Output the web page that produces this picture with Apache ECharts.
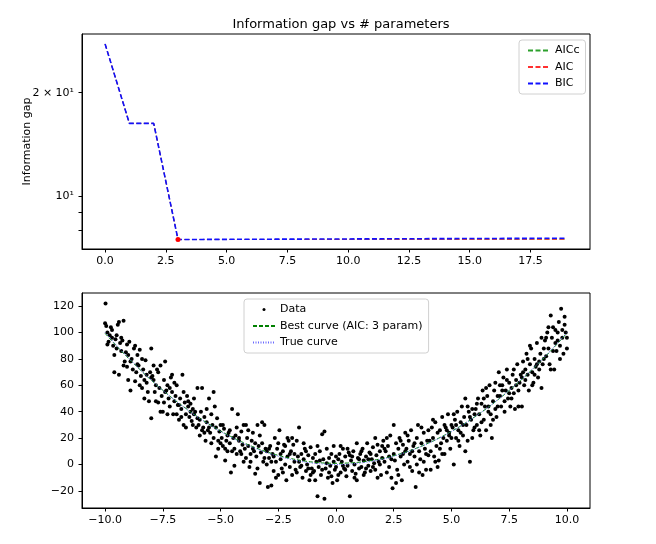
<!DOCTYPE html>
<html>
<head>
<meta charset="utf-8">
<script src="https://cdn.jsdelivr.net/npm/echarts@6.0.0/dist/echarts.min.js"></script>
<style>
  html, body { margin: 0; padding: 0; background: #fff; }
  #chart { width: 656px; height: 544px; }
</style>
</head>
<body>
<div id="chart"></div>
<script>
// top panel: information gap per number of parameters
const paramCounts = [0, 1, 2, 3, 4, 5, 6, 7, 8, 9, 10, 11, 12, 13, 14, 15, 16, 17, 18, 19];
const aiccValues = [27.7, 16.3, 16.3, 7.51, 7.51, 7.51, 7.512, 7.513, 7.514, 7.515, 7.516, 7.517, 7.518, 7.519, 7.52, 7.521, 7.522, 7.523, 7.524, 7.525];
const aicValues = [27.7, 16.3, 16.3, 7.51, 7.51, 7.51, 7.512, 7.513, 7.514, 7.515, 7.516, 7.517, 7.518, 7.519, 7.52, 7.521, 7.522, 7.523, 7.524, 7.525];
const bicValues = [27.7, 16.3, 16.3, 7.51, 7.515, 7.52, 7.524, 7.528, 7.532, 7.536, 7.54, 7.544, 7.548, 7.552, 7.556, 7.56, 7.564, 7.568, 7.572, 7.576];
const bestK = 3;
const topXTicks = [0, 2.5, 5, 7.5, 10, 12.5, 15, 17.5];
const topYTicks = [8, 9, 10, 20];
const topYLabels = [10, 20];

// bottom panel: data and curves
const curveX = [-10, -9.5, -9, -8.5, -8, -7.5, -7, -6.5, -6, -5.5, -5, -4.5, -4, -3.5, -3, -2.5, -2, -1.5, -1, -0.5, 0,
  0.5, 1, 1.5, 2, 2.5, 3, 3.5, 4, 4.5, 5, 5.5, 6, 6.5, 7, 7.5, 8, 8.5, 9, 9.5, 10];
const trueY = [100, 90.25, 81, 72.25, 64, 56.25, 49, 42.25, 36, 30.25, 25, 20.25, 16, 12.25, 9, 6.25, 4, 2.25, 1, 0.25, 0,
  0.25, 1, 2.25, 4, 6.25, 9, 12.25, 16, 20.25, 25, 30.25, 36, 42.25, 49, 56.25, 64, 72.25, 81, 90.25, 100];
const bestY = [99.4, 89.8, 80.7, 72.1, 63.9, 56.3, 49.1, 42.5, 36.3, 30.6, 25.4, 20.7, 16.5, 12.8, 9.6, 6.9, 4.7, 3.0, 1.8, 1.1, 0.9,
  1.1, 1.7, 2.9, 4.5, 6.7, 9.3, 12.5, 16.2, 20.4, 25.1, 30.3, 36.0, 42.2, 48.9, 56.1, 63.8, 72.0, 80.7, 89.9, 99.6];
const bottomXTicks = [-10, -7.5, -5, -2.5, 0, 2.5, 5, 7.5, 10];
const bottomYTicks = [-20, 0, 20, 40, 60, 80, 100, 120];

const dataPoints = [
  [-10,107],[-9.95,105],[-9.9,100],[-9.85,93],[-9.8,98],[-9.75,104],[-9.7,102],[-9.65,90],[-9.6,83],[-9.55,95],
  [-9.5,88],[-9.45,106],[-9.4,108],[-9.35,92],[-9.3,86],[-9.25,94],[-9.2,109],[-9.15,78],[-9.1,85],[-9.05,91],
  [-9.0,83],[-9.98,122],[-9.6,70],[-9.4,68],[-9.2,75],[-9.05,74],[-9.5,98],[-9.3,96],[-9.7,96],[-9.9,91],
  [-8.95,93],[-8.9,78],[-8.85,80],[-8.8,72],[-8.75,88],[-8.7,63],[-8.65,70],[-8.6,83],[-8.55,75],[-8.5,87],
  [-8.45,67],[-8.4,58],[-8.35,72],[-8.3,64],[-8.25,79],[-8.2,68],[-8.15,55],[-8.1,48],[-8.05,70],[-8.0,88],
  [-8.9,56],[-8.7,90],[-8.6,76],[-8.4,80],[-8.2,62],[-8.0,35],[-8.0,66],[-8.3,50],[-8.5,60],[-9.0,64],
  [-7.95,67],[-7.9,64],[-7.85,55],[-7.8,60],[-7.75,72],[-7.7,47],[-7.65,58],[-7.6,75],[-7.55,52],[-7.5,40],
  [-7.45,64],[-7.4,78],[-7.35,56],[-7.3,60],[-7.25,50],[-7.2,44],[-7.15,66],[-7.1,55],[-7.05,38],[-7.0,62],
  [-7.6,40],[-7.3,38],[-7.8,48],[-7.7,70],[-7.2,58],[-7.0,48],[-7.9,75],[-7.45,47],[-7.1,68],[-7.4,55],
  [-6.95,52],[-6.9,38],[-6.85,45],[-6.8,34],[-6.75,50],[-6.7,42],[-6.65,68],[-6.6,30],[-6.55,47],[-6.5,38],
  [-6.45,52],[-6.4,44],[-6.35,36],[-6.3,46],[-6.25,33],[-6.2,42],[-6.15,50],[-6.1,40],[-6.05,28],[-6.0,35],
  [-6.9,60],[-6.7,36],[-6.5,28],[-6.3,40],[-6.15,38],[-6.8,45],[-6.6,55],[-6.4,48],[-6.2,30],[-6.0,58],
  [-5.95,30],[-5.9,22],[-5.85,40],[-5.8,58],[-5.75,28],[-5.7,36],[-5.65,18],[-5.6,32],[-5.55,26],[-5.5,50],
  [-5.45,24],[-5.4,38],[-5.35,30],[-5.3,20],[-5.25,44],[-5.2,28],[-5.15,35],[-5.1,12],[-5.05,25],[-5.0,30],
  [-5.9,34],[-5.6,42],[-5.4,16],[-5.3,55],[-5.2,6],[-5.5,28],[-5.7,24],[-5.1,18],[-5.8,26],[-5.0,16],
  [-4.95,20],[-4.9,14],[-4.85,27],[-4.8,3],[-4.75,18],[-4.7,10],[-4.65,24],[-4.6,16],[-4.55,-6],[-4.5,42],
  [-4.45,20],[-4.4,12],[-4.35,22],[-4.3,8],[-4.25,38],[-4.2,18],[-4.15,10],[-4.1,25],[-4.05,15],[-4.0,2],
  [-4.9,30],[-4.7,22],[-4.5,10],[-4.3,28],[-4.1,8],[-4.6,26],[-4.4,-1],[-4.0,30],[-4.8,12],[-4.2,20],
  [-3.95,12],[-3.9,5],[-3.85,20],[-3.8,14],[-3.75,-2],[-3.7,8],[-3.65,18],[-3.6,24],[-3.55,10],[-3.5,-7],
  [-3.45,6],[-3.4,30],[-3.35,14],[-3.3,-14],[-3.25,9],[-3.2,16],[-3.15,2],[-3.1,30],[-3.05,12],[-3.0,0],
  [-3.9,30],[-3.7,2],[-3.5,16],[-3.3,22],[-3.1,5],[-3.6,12],[-3.4,-3],[-3.2,32],[-3.8,26],[-3.0,10],
  [-2.95,-17],[-2.9,5],[-2.85,14],[-2.8,-16],[-2.75,8],[-2.7,-5],[-2.65,20],[-2.6,2],[-2.55,12],[-2.5,-8],
  [-2.45,26],[-2.4,4],[-2.35,-3],[-2.3,10],[-2.25,15],[-2.2,0],[-2.15,-12],[-2.1,6],[-2.05,18],[-2.0,-2],
  [-2.9,12],[-2.7,6],[-2.5,16],[-2.3,-6],[-2.1,20],[-2.6,-10],[-2.4,8],[-2.2,14],[-2.8,2],[-2.0,8],
  [-1.95,10],[-1.9,-8],[-1.85,15],[-1.8,2],[-1.75,-4],[-1.7,18],[-1.65,6],[-1.6,28],[-1.55,-2],[-1.5,8],
  [-1.45,-10],[-1.4,4],[-1.35,12],[-1.3,-5],[-1.25,0],[-1.2,7],[-1.15,-12],[-1.1,13],[-1.05,-3],[-1.0,5],
  [-1.9,20],[-1.7,-6],[-1.5,-1],[-1.3,10],[-1.1,-8],[-1.6,2],[-1.4,16],[-1.2,-3],[-1.8,8],[-1.0,-6],
  [-0.95,-5],[-0.9,8],[-0.85,2],[-0.8,-24],[-0.75,-2],[-0.7,10],[-0.65,-8],[-0.6,23],[-0.55,4],[-0.5,-26],
  [-0.45,-3],[-0.4,12],[-0.35,-10],[-0.3,5],[-0.25,-1],[-0.2,8],[-0.15,-14],[-0.1,2],[-0.05,-4],[0.0,6],
  [-0.9,-12],[-0.7,3],[-0.5,25],[-0.3,-6],[-0.1,14],[-0.6,-4],[-0.4,1],[-0.2,-9],[-0.8,14],[0.0,-2],
  [0.05,-12],[0.1,4],[0.15,8],[0.2,-6],[0.25,2],[0.3,12],[0.35,-3],[0.4,6],[0.45,-9],[0.5,-1],
  [0.55,9],[0.6,-24],[0.65,3],[0.7,-5],[0.75,10],[0.8,0],[0.85,-7],[0.9,16],[0.95,5],[1.0,-3],
  [0.1,-8],[0.3,-1],[0.5,12],[0.7,6],[0.9,-12],[0.2,14],[0.4,-4],[0.6,7],[0.8,-10],[1.0,4],
  [1.05,8],[1.1,-2],[1.15,12],[1.2,3],[1.25,-6],[1.3,6],[1.35,16],[1.4,-1],[1.45,9],[1.5,-5],
  [1.55,4],[1.6,13],[1.65,1],[1.7,-4],[1.75,7],[1.8,15],[1.85,2],[1.9,10],[1.95,-8],[2.0,5],
  [1.1,10],[1.3,-3],[1.5,8],[1.7,20],[1.9,0],[1.2,-8],[1.4,4],[1.6,-2],[1.8,-10],[2.0,14],
  [2.05,18],[2.1,2],[2.15,10],[2.2,-6],[2.25,14],[2.3,6],[2.35,22],[2.4,-10],[2.45,-18],[2.5,8],
  [2.55,3],[2.6,16],[2.65,-4],[2.7,12],[2.75,20],[2.8,6],[2.85,-12],[2.9,15],[2.95,0],[3.0,24],
  [2.1,12],[2.3,-2],[2.5,30],[2.7,-8],[2.9,8],[2.2,20],[2.4,4],[2.6,-14],[2.8,18],[3.0,10],
  [3.05,12],[3.1,2],[3.15,18],[3.2,8],[3.25,26],[3.3,-5],[3.35,14],[3.4,6],[3.45,-17],[3.5,20],
  [3.55,30],[3.6,10],[3.65,4],[3.7,16],[3.75,-8],[3.8,24],[3.85,12],[3.9,-4],[3.95,18],[4.0,7],
  [3.1,22],[3.3,10],[3.5,0],[3.7,28],[3.9,8],[3.2,-2],[3.4,16],[3.6,-6],[3.8,2],[4.0,26],
  [4.05,18],[4.1,10],[4.15,28],[4.2,20],[4.25,6],[4.3,32],[4.35,14],[4.4,24],[4.45,3],[4.5,26],
  [4.55,16],[4.6,36],[4.65,20],[4.7,8],[4.75,28],[4.8,18],[4.85,38],[4.9,24],[4.95,12],[5.0,30],
  [4.1,-4],[4.3,2],[4.5,12],[4.7,30],[4.9,22],[4.2,34],[4.4,-2],[4.6,8],[4.8,26],[5.0,20],
  [5.05,28],[5.1,0],[5.15,34],[5.2,20],[5.25,40],[5.3,26],[5.35,14],[5.4,32],[5.45,44],[5.5,22],
  [5.55,36],[5.6,50],[5.65,30],[5.7,18],[5.75,40],[5.8,2],[5.85,34],[5.9,42],[5.95,26],[6.0,38],
  [5.1,38],[5.3,18],[5.5,30],[5.7,44],[5.9,20],[5.2,30],[5.4,24],[5.6,10],[5.8,36],[6.0,28],
  [6.05,42],[6.1,30],[6.15,50],[6.2,38],[6.25,22],[6.3,46],[6.35,56],[6.4,34],[6.45,44],[6.5,26],
  [6.55,52],[6.6,40],[6.65,60],[6.7,38],[6.75,20],[6.8,48],[6.85,56],[6.9,42],[6.95,36],[7.0,52],
  [6.1,46],[6.3,32],[6.5,58],[6.7,30],[6.9,62],[6.2,26],[6.4,50],[6.6,44],[6.8,34],[7.0,44],
  [7.05,70],[7.1,52],[7.15,44],[7.2,60],[7.25,66],[7.3,40],[7.35,56],[7.4,72],[7.45,50],[7.5,62],
  [7.55,44],[7.6,58],[7.65,68],[7.7,54],[7.75,42],[7.8,64],[7.85,76],[7.9,56],[7.95,62],[8.05,44],
  [7.1,60],[7.3,48],[7.5,54],[7.7,72],[7.9,44],[7.2,56],[7.4,64],[7.6,50],[7.8,60],[8.0,68],
  [8.05,66],[8.1,78],[8.15,60],[8.2,72],[8.25,84],[8.3,68],[8.35,56],[8.4,76],[8.45,88],[8.5,70],
  [8.55,62],[8.6,80],[8.65,74],[8.7,92],[8.75,66],[8.8,78],[8.85,84],[8.9,58],[8.95,76],[9.0,88],
  [8.1,70],[8.3,80],[8.5,60],[8.7,76],[8.9,96],[8.2,64],[8.4,90],[8.6,68],[8.8,72],[9.0,80],
  [9.05,94],[9.1,82],[9.15,100],[9.2,88],[9.25,76],[9.3,113],[9.35,96],[9.4,104],[9.45,72],[9.5,92],
  [9.55,86],[9.6,100],[9.65,108],[9.7,90],[9.75,118],[9.8,96],[9.85,84],[9.9,106],[9.95,100],[10.0,96],
  [9.1,96],[9.3,72],[9.5,102],[9.7,80],[9.9,112],[9.2,104],[9.4,86],[9.6,94],[9.8,102],[10.0,88]
];

const FONT = 'DejaVu Sans';
const minus = s => String(s).replace('-', '\u2212');

const pairs = (xs, ys) => xs.map((x, i) => [x, ys[i]]);

function axisBase(gridIndex) {
  return {
    gridIndex: gridIndex,
    splitLine: { show: false },
    axisLine: { show: true, onZero: false, lineStyle: { color: '#000', width: 1 } },
    axisTick: { show: true, length: 3.5, lineStyle: { color: '#000', width: 1 } },
    axisLabel: { color: '#000', fontFamily: FONT, fontSize: 11 }
  };
}

let chart = echarts.init(document.getElementById('chart'), null, { renderer: 'canvas' });

let topX = axisBase(0);
topX.type = 'value';
topX.min = -0.95;
topX.max = 19.95;
topX.axisTick.customValues = topXTicks;
topX.axisLabel.customValues = topXTicks;
topX.axisLabel.margin = 7;
topX.axisLabel.formatter = v => v.toFixed(1);

let topY = axisBase(0);
topY.type = 'log';
topY.logBase = 10;
topY.min = 7.05;
topY.max = 29.6;
topY.axisTick.customValues = topYTicks;
topY.axisLabel.customValues = topYLabels;
topY.axisLabel.margin = 8;
topY.axisLabel.formatter = v => Math.round(v) === 10 ? '10\u00b9' : '2 \u00d7 10\u00b9';
topY.name = 'Information gap';
topY.nameLocation = 'middle';
topY.nameGap = 49;
topY.nameMoveOverlap = false;
topY.nameTextStyle = { color: '#000', fontFamily: FONT, fontSize: 11 };

let botX = axisBase(1);
botX.type = 'value';
botX.min = -11;
botX.max = 11;
botX.axisTick.customValues = bottomXTicks;
botX.axisLabel.customValues = bottomXTicks;
botX.axisLabel.margin = 7;
botX.axisLabel.formatter = v => minus(v.toFixed(1));

let botY = axisBase(1);
botY.type = 'value';
botY.min = -33;
botY.max = 130;
botY.axisTick.customValues = bottomYTicks;
botY.axisLabel.customValues = bottomYTicks;
botY.axisLabel.margin = 8;
botY.axisLabel.formatter = v => minus(v);

const legendBase = {
  orient: 'vertical',
  itemWidth: 22,
  itemHeight: 11,
  itemGap: 5.5,
  padding: [5, 6, 5, 8],
  borderColor: '#d0d0d0',
  borderWidth: 1,
  borderRadius: 3,
  backgroundColor: 'rgba(255,255,255,0.8)',
  textStyle: { color: '#000', fontFamily: FONT, fontSize: 11 },
  itemStyle: { opacity: 0 },
  selectedMode: false
};

const dotIcon = 'path://M0,0M22,0M22,11M0,11M9.5,5.5a1.5,1.5 0 1,0 3,0a1.5,1.5 0 1,0 -3,0z';

chart.setOption({
  backgroundColor: '#fff',
  animation: false,
  title: {
    text: 'Information gap vs # parameters',
    left: 336,
    top: 13,
    textAlign: 'center',
    textStyle: { color: '#000', fontFamily: FONT, fontSize: 13, fontWeight: 'normal' }
  },
  grid: [
    { left: 82, top: 34, width: 508, height: 215, show: true, borderColor: '#000', borderWidth: 1, backgroundColor: 'transparent' },
    { left: 82, top: 293, width: 508, height: 215, show: true, borderColor: '#000', borderWidth: 1, backgroundColor: 'transparent' }
  ],
  xAxis: [topX, botX],
  yAxis: [topY, botY],
  legend: [
    Object.assign({}, legendBase, {
      left: 519, top: 40,
      data: ['AICc', 'AIC', 'BIC']
    }),
    Object.assign({}, legendBase, {
      left: 244, top: 299,
      data: [
        { name: 'Data', icon: dotIcon, itemStyle: { color: '#000', opacity: 1 } },
        'Best curve (AIC: 3 param)',
        'True curve'
      ]
    })
  ],
  series: [
    {
      name: 'AICc', type: 'line', xAxisIndex: 0, yAxisIndex: 0,
      data: pairs(paramCounts, aiccValues), symbol: 'none',
      lineStyle: { color: '#2ca02c', width: 1, type: [5, 2.5] }, itemStyle: { color: '#2ca02c' }
    },
    {
      name: 'AIC', type: 'line', xAxisIndex: 0, yAxisIndex: 0,
      data: pairs(paramCounts, aicValues), symbol: 'none',
      lineStyle: { color: '#ff3030', width: 1, type: [5, 2.5] }, itemStyle: { color: '#ff3030' }
    },
    {
      name: 'BIC', type: 'line', xAxisIndex: 0, yAxisIndex: 0,
      data: pairs(paramCounts, bicValues), symbol: 'none',
      lineStyle: { color: '#1010ff', width: 1.6, type: [5, 2.5] }, itemStyle: { color: '#1010ff' }
    },
    {
      name: 'best', type: 'scatter', xAxisIndex: 0, yAxisIndex: 0,
      data: [[paramCounts[bestK], aicValues[bestK]]],
      symbolSize: 5, itemStyle: { color: '#ff0000', opacity: 1 }, z: 5
    },
    {
      name: 'Data', type: 'scatter', xAxisIndex: 1, yAxisIndex: 1,
      data: dataPoints, symbolSize: 4,
      itemStyle: { color: '#000', opacity: 1 }
    },
    {
      name: 'Best curve (AIC: 3 param)', type: 'line', xAxisIndex: 1, yAxisIndex: 1,
      data: pairs(curveX, bestY), symbol: 'none', smooth: true,
      lineStyle: { color: '#008000', width: 1, type: [4, 2] }, itemStyle: { color: '#008000' }, z: 3
    },
    {
      name: 'True curve', type: 'line', xAxisIndex: 1, yAxisIndex: 1,
      data: pairs(curveX, trueY), symbol: 'none', smooth: true,
      lineStyle: { color: '#6a6aff', width: 1, type: [1, 1.5] }, itemStyle: { color: '#6a6aff' }, z: 4
    }
  ]
});

window.addEventListener('resize', () => {
  chart.resize();
});
</script>
</body>
</html>
